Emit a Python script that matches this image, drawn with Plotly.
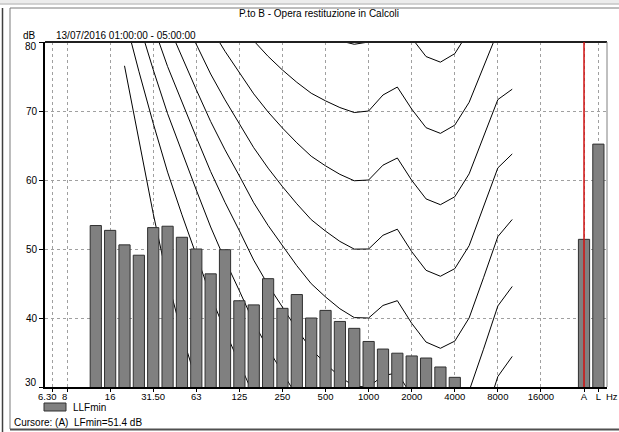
import plotly.graph_objects as go

# ---------------- data ----------------
bands = ["6.3", "8", "10", "12.5", "16", "20", "25", "31.5", "40", "50", "63", "80",
         "100", "125", "160", "200", "250", "315", "400", "500", "630", "800", "1000",
         "1250", "1600", "2000", "2500", "3150", "4000", "5000", "6300", "8000", "10000",
         "12500", "16000", "20000", "", "A", "L"]

llfmin = [None, None, None, 53.4, 52.7, 50.6, 49.1, 53.1, 53.3, 51.7, 50.0, 46.4,
          49.9, 42.5, 41.9, 45.7, 41.4, 43.4, 40.0, 41.1, 39.5, 38.5, 36.6,
          35.5, 34.9, 34.5, 34.2, 32.9, 31.4, None, None, None, None,
          None, None, None, None, 51.4, 65.2]

tick_bands = ["6.3", "8", "16", "31.5", "63", "125", "250", "500", "1000", "2000",
              "4000", "8000", "16000", "A", "L"]
tick_text = ["6.30", "8", "16", "31.50", "63", "125", "250",
             "500", "1000", "2000", "4000", "8000", "16000", "A", "L"]

y_ticks = [30, 40, 50, 60, 70, 80]

# isophonic contours, 20 Hz .. 10 kHz (dB)
contour_bands = ["20", "25", "31.5", "40", "50", "63", "80", "100", "125", "160", "200",
                 "250", "315", "400", "500", "630", "800", "1000", "1250", "1600", "2000",
                 "2500", "3150", "4000", "5000", "6300", "8000", "10000"]
phon0 = [76.55, 65.62, 55.12, 45.53, 37.63, 30.87, 25.02, 20.51] + [None] * 20
phon10 = [83.75, 75.76, 68.21, 61.14, 54.96, 49.01, 43.24, 38.13, 33.48, 28.77, 24.84] + [None] * 17
phon20 = [89.58, 82.65, 75.98, 69.62, 64.02, 58.55, 53.19, 48.38, 43.94, 39.37, 35.51,
          31.99, 28.69, 25.67] + [None] * 11 + [25.02, 31.52, 34.43]
phon30 = [94.85, 88.52, 82.36, 76.45, 71.26, 66.20, 61.22, 56.76, 52.64, 48.38, 44.78,
          41.47, 38.36, 35.50, 33.37, 31.49, 30.11, 30.00, 31.65, 32.04, 28.76,
          26.03, 25.05, 26.02, 29.43, 35.48, 41.75, 44.57]
phon40 = [99.85, 93.94, 88.17, 82.63, 77.78, 73.08, 68.48, 64.37, 60.59, 56.70, 53.41,
          50.40, 47.58, 44.98, 43.05, 41.34, 40.06, 40.00, 41.82, 42.51, 39.23,
          36.51, 35.61, 36.65, 40.01, 45.83, 51.80, 54.28]
phon50 = [104.72, 99.14, 93.69, 88.48, 83.96, 79.61, 75.36, 71.61, 68.17, 64.68, 61.72,
          59.04, 56.55, 54.26, 52.59, 51.10, 49.98, 50.00, 51.99, 52.87, 49.62,
          46.91, 46.05, 47.15, 50.48, 56.11, 61.76, 63.78]
phon60 = [109.51, 104.23, 99.08, 94.18, 89.96, 85.94, 82.05, 78.65, 75.56, 72.48, 69.86,
          67.53, 65.39, 63.45, 62.05, 60.82, 59.89, 60.00, 62.15, 63.19, 59.96,
          57.26, 56.42, 57.57, 60.89, 66.36, 71.66, 73.16]
phon70 = [114.26, 109.25, 104.38, 99.78, 95.87, 92.18, 88.64, 85.60, 82.86, 80.17, 77.92,
          75.94, 74.16, 72.58, 71.47, 70.50, 69.78, 70.00, 72.32, 73.47, 70.28,
          67.58, 66.76, 67.95, 71.26, 76.59, 81.54, 82.46]
phon80 = [None] * 8 + [90.09, 87.82, 85.92, 84.31, 82.89, 81.68, 80.86, 80.17, 79.67,
                       80.00, 82.48, 83.74, 80.59, 77.89, 77.08, 78.31, 81.62, 86.81,
                       91.41, 91.74]
contours = [phon0, phon10, phon20, phon30, phon40, phon50, phon60, phon70, phon80]

title = "P.to B - Opera restituzione in Calcoli"
period = "13/07/2016 01:00:00 - 05:00:00"
series_name = "LLFmin"
cursor_text = "Cursore: (A)  LFmin=51.4 dB"

# ---------------- layout helpers ----------------
W, H = 619, 432
ML, MR, MT, MB = 45, 12, 42, 45
PW, PH = W - ML - MR, H - MT - MB
FONT = "Liberation Sans, Arial, sans-serif"


def pxx(x):
    return (x - ML) / PW


def pxy(y):
    return (H - MB - y) / PH


pos = {b: i for i, b in enumerate(bands)}
xrange_ = [-0.536, 38.6]
yrange_ = [y_ticks[0], y_ticks[-1]]

fig = go.Figure()

# contours (base axes, drawn beneath bars)
cx = [pos[b] for b in contour_bands]
for c in contours:
    fig.add_trace(go.Scatter(x=cx, y=c, mode="lines", line=dict(color="black", width=1),
                             connectgaps=False, hoverinfo="skip", showlegend=False,
                             xaxis="x", yaxis="y"))

# bars on overlay axes
fig.add_trace(go.Bar(x=list(range(len(bands))), y=llfmin, width=0.78, name=series_name,
                     marker=dict(color="#808080", line=dict(color="#303030", width=1)),
                     xaxis="x2", yaxis="y2", showlegend=False, hoverinfo="skip"))

shapes = []
# window decorations
shapes.append(dict(type="rect", xref="paper", yref="paper", x0=pxx(0), x1=pxx(W),
                   y0=pxy(0), y1=pxy(3.5), fillcolor="#ececec", line=dict(width=0), layer="below"))
shapes.append(dict(type="line", xref="paper", yref="paper", x0=pxx(0), x1=pxx(W),
                   y0=pxy(4), y1=pxy(4), line=dict(color="#a8a8a8", width=1)))
shapes.append(dict(type="line", xref="paper", yref="paper", x0=pxx(2.5), x1=pxx(2.5),
                   y0=pxy(8), y1=pxy(H), line=dict(color="#404040", width=1.5)))
shapes.append(dict(type="line", xref="paper", yref="paper", x0=pxx(10), x1=pxx(W),
                   y0=pxy(8), y1=pxy(8), line=dict(color="#7a7a7a", width=1)))
shapes.append(dict(type="line", xref="paper", yref="paper", x0=pxx(10), x1=pxx(10),
                   y0=pxy(8), y1=pxy(429), line=dict(color="#7a7a7a", width=1)))
shapes.append(dict(type="line", xref="paper", yref="paper", x0=pxx(10), x1=pxx(W),
                   y0=pxy(429.5), y1=pxy(429.5), line=dict(color="#505050", width=2)))
# plot frame: top and right
shapes.append(dict(type="line", xref="paper", yref="paper", x0=0, x1=1, y0=1, y1=1,
                   line=dict(color="#202020", width=2)))
shapes.append(dict(type="line", xref="paper", yref="paper", x0=1, x1=1, y0=0, y1=1,
                   line=dict(color="#808080", width=1)))
# cursor on A
shapes.append(dict(type="line", xref="x", yref="paper", x0=pos["A"], x1=pos["A"], y0=0, y1=1,
                   line=dict(color="#d01010", width=1.5), layer="above"))
# legend swatch
shapes.append(dict(type="rect", xref="paper", yref="paper", x0=pxx(44), x1=pxx(66),
                   y0=pxy(411), y1=pxy(403), fillcolor="#808080",
                   line=dict(color="#303030", width=1)))

txt = dict(color="black", family=FONT)
annotations = [
    dict(text=title, xref="paper", yref="paper", x=pxx(319), y=pxy(14), showarrow=False,
         xanchor="center", yanchor="middle", font=dict(size=10, **txt)),
    dict(text="dB", xref="paper", yref="paper", x=pxx(38), y=pxy(35), showarrow=False,
         xanchor="right", yanchor="middle", font=dict(size=10, **txt)),
    dict(text=period, xref="paper", yref="paper", x=pxx(54), y=pxy(35), showarrow=False,
         xanchor="left", yanchor="middle", font=dict(size=10, **txt)),
    # end labels of the y axis sit just inside the frame
    dict(text=str(y_ticks[-1]), xref="paper", yref="y", x=pxx(38.5), y=y_ticks[-1],
         yshift=-4.5, showarrow=False, xanchor="right", yanchor="middle",
         font=dict(size=10, **txt)),
    dict(text=str(y_ticks[0]), xref="paper", yref="y", x=pxx(38.5), y=y_ticks[0],
         yshift=5, showarrow=False, xanchor="right", yanchor="middle",
         font=dict(size=10, **txt)),
    # the two crowded low-band labels are nudged left of their ticks
    dict(text=tick_text[0], xref="x", yref="paper", x=pos[tick_bands[0]], y=pxy(396.5),
         xshift=-5.5, showarrow=False, xanchor="center", yanchor="middle",
         font=dict(size=9.5, **txt)),
    dict(text=tick_text[1], xref="x", yref="paper", x=pos[tick_bands[1]], y=pxy(396.5),
         xshift=-2.5, showarrow=False, xanchor="center", yanchor="middle",
         font=dict(size=9.5, **txt)),
    dict(text="Hz", xref="paper", yref="paper", x=pxx(605), y=pxy(396.5), showarrow=False,
         xanchor="left", yanchor="middle", borderpad=0, font=dict(size=9.5, **txt)),
    dict(text=series_name, xref="paper", yref="paper", x=pxx(71), y=pxy(407), showarrow=False,
         xanchor="left", yanchor="middle", font=dict(size=10, **txt)),
    dict(text=cursor_text, xref="paper", yref="paper", x=pxx(12), y=pxy(422.5), showarrow=False,
         xanchor="left", yanchor="middle", font=dict(size=10, **txt)),
]

fig.update_layout(
    width=W, height=H, margin=dict(l=ML, r=MR, t=MT, b=MB, pad=0),
    paper_bgcolor="white", plot_bgcolor="white", showlegend=False, hovermode=False,
    font=dict(family=FONT, size=10, color="black"),
    xaxis=dict(range=xrange_, tickmode="array", tickvals=[pos[b] for b in tick_bands],
               ticktext=["", ""] + tick_text[2:], tickangle=0, tickfont=dict(size=9.5),
               ticklabelstandoff=-3,
               showgrid=True, gridcolor="#a0a0a0", griddash="dot", gridwidth=1,
               showline=True, linecolor="black", linewidth=2, ticks="outside", ticklen=3,
               tickcolor="black", zeroline=False, fixedrange=True),
    yaxis=dict(range=yrange_, tickmode="array", tickvals=y_ticks,
               ticktext=[""] + [str(v) for v in y_ticks[1:-1]] + [""],
               showgrid=True, gridcolor="#a0a0a0", griddash="dot", gridwidth=1,
               showline=True, linecolor="black", linewidth=2, ticks="outside", ticklen=4,
               tickcolor="black", zeroline=False, tickfont=dict(size=10), fixedrange=True),
    xaxis2=dict(range=xrange_, overlaying="x", anchor="y2", visible=False, fixedrange=True),
    yaxis2=dict(range=yrange_, overlaying="y", anchor="x2", visible=False, fixedrange=True),
    shapes=shapes, annotations=annotations,
)

fig.write_html("out.html")
